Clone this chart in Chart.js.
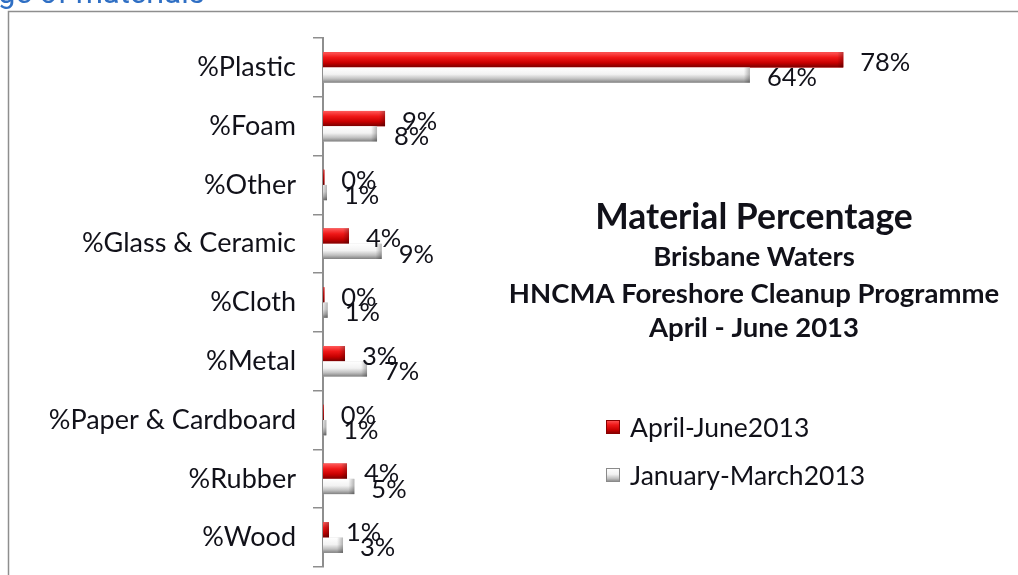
<!DOCTYPE html>
<html>
<head>
<meta charset="utf-8">
<script src="https://cdn.jsdelivr.net/npm/chart.js@4.4.1/dist/chart.umd.min.js"></script>
<style>
html,body{margin:0;padding:0;background:#fff;}
#wrap{position:relative;width:1018px;height:575px;}
</style>
</head>
<body>
<div id="wrap"><canvas id="c" width="1018" height="575"></canvas></div>
<script>
const categories = ['%Plastic','%Foam','%Other','%Glass & Ceramic','%Cloth','%Metal','%Paper & Cardboard','%Rubber','%Wood'];
const aprJun2013 = [78, 9.3, 0.2, 3.9, 0.2, 3.3, 0.1, 3.6, 0.9];
const janMar2013 = [64, 8.1, 0.6, 8.8, 0.7, 6.6, 0.5, 4.7, 3.0];
const seriesNames = ['April-June2013', 'January-March2013'];
const titleLines = ['Material Percentage', 'Brisbane Waters', 'HNCMA Foreshore Cleanup Programme', 'April - June 2013'];
const headerText = 'ge of materials';

const FONT = 'Lato';
const TXT = '#111119';

const gradStops = [
  [[0,'#ff5a5a'],[0.35,'#f01818'],[0.7,'#c80000'],[1,'#7a0000']],
  [[0,'#ffffff'],[0.45,'#f2f2f2'],[0.75,'#c0c0c0'],[1,'#808080']]
];

const frame = {
  id: 'frame',
  beforeDraw(chart) {
    const c = chart.ctx;
    c.save();
    c.fillStyle = '#fff';
    c.fillRect(0,0,chart.width,chart.height);
    c.strokeStyle = '#8e8e8e';
    c.lineWidth = 1.5;
    c.beginPath();
    c.moveTo(8.5, chart.height + 5);
    c.lineTo(8.5, 11.5);
    c.lineTo(chart.width + 5, 11.5);
    c.stroke();
    c.fillStyle = '#2f6fc4';
    c.font = '31px Roboto';
    c.textBaseline = 'alphabetic';
    c.fillText(headerText, -2, 3);
    c.restore();
  }
};

const bevel = {
  id: 'bevel',
  afterDatasetsDraw(chart) {
    const c = chart.ctx;
    c.save();
    chart.data.datasets.forEach((ds, di) => {
      const meta = chart.getDatasetMeta(di);
      meta.data.forEach(el => {
        const p = el.getProps(['x','y','base','height'], true);
        const top = p.y - p.height/2, h = p.height;
        const w = p.x - p.base;
        if (w <= 0) return;
        const g = c.createLinearGradient(0, top, 0, top + h);
        gradStops[di].forEach(s => g.addColorStop(s[0], s[1]));
        c.fillStyle = g;
        c.fillRect(p.base, top, w, h);
        const rg = c.createLinearGradient(p.x - 6, 0, p.x, 0);
        rg.addColorStop(0, 'rgba(0,0,0,0)');
        rg.addColorStop(1, 'rgba(0,0,0,0.28)');
        c.fillStyle = rg;
        c.fillRect(Math.max(p.base, p.x - 6), top, Math.min(6, w), h);
      });
    });
    c.restore();
  }
};

const valueLabels = {
  id: 'valueLabels',
  afterDatasetsDraw(chart) {
    const c = chart.ctx;
    c.save();
    c.font = '25.5px ' + FONT;
    c.fillStyle = TXT;
    c.textAlign = 'left';
    c.textBaseline = 'middle';
    chart.data.datasets.forEach((ds, di) => {
      const meta = chart.getDatasetMeta(di);
      meta.data.forEach((el, i) => {
        const p = el.getProps(['x','y'], true);
        c.fillText(Math.round(ds.data[i]) + '%', p.x + 17, p.y + 3);
      });
    });
    c.restore();
  }
};

const titleAndLegend = {
  id: 'titleAndLegend',
  afterDraw(chart) {
    const c = chart.ctx;
    c.save();
    c.fillStyle = TXT;
    c.textAlign = 'center';
    c.textBaseline = 'middle';
    const cx = 754;
    c.font = 'bold 35.5px ' + FONT;
    c.fillText(titleLines[0], cx, 218);
    c.font = 'bold 27.5px ' + FONT;
    c.fillText(titleLines[1], cx, 257);
    c.fillText(titleLines[2], cx, 294);
    c.fillText(titleLines[3], cx, 328);
    c.textAlign = 'left';
    c.font = '26.5px ' + FONT;
    const ys = [427, 475];
    chart.data.datasets.forEach((ds, di) => {
      const y = ys[di];
      const g = c.createLinearGradient(0, y - 7, 0, y + 7);
      gradStops[di].forEach(s => g.addColorStop(s[0], s[1]));
      c.fillStyle = g;
      c.fillRect(606, y - 7, 14, 14);
      c.strokeStyle = di === 0 ? '#8a0000' : '#8a8a8a';
      c.lineWidth = 1;
      c.strokeRect(606.5, y - 6.5, 13, 13);
      c.fillStyle = TXT;
      c.fillText(ds.label, 630, y + 1);
    });
    c.restore();
  }
};

new Chart(document.getElementById('c'), {
  type: 'bar',
  data: {
    labels: categories,
    datasets: [
      { label: seriesNames[0], data: aprJun2013, backgroundColor: '#d80000', borderWidth: 0 },
      { label: seriesNames[1], data: janMar2013, backgroundColor: '#d0d0d0', borderWidth: 0 }
    ]
  },
  options: {
    indexAxis: 'y',
    responsive: false,
    animation: false,
    devicePixelRatio: 1,
    layout: { padding: { left: 0, right: 28, top: 38, bottom: 8 } },
    datasets: { bar: { categoryPercentage: 0.52, barPercentage: 1 } },
    plugins: { legend: { display: false }, title: { display: false }, tooltip: { enabled: false } },
    scales: {
      x: { display: false, min: 0, max: 100 },
      y: {
        afterFit(scale) { scale.width = 323; scale.paddingTop = 0; scale.paddingBottom = 0; },
        grid: { display: true, drawOnChartArea: false, drawTicks: true, tickLength: 10, color: '#8e8e8e', lineWidth: 1.5, offset: true },
        border: { display: true, color: '#8e8e8e', width: 2 },
        ticks: { color: TXT, font: { family: FONT, size: 27 }, padding: 17 }
      }
    }
  },
  plugins: [frame, bevel, valueLabels, titleAndLegend]
});
</script>
</body>
</html>
